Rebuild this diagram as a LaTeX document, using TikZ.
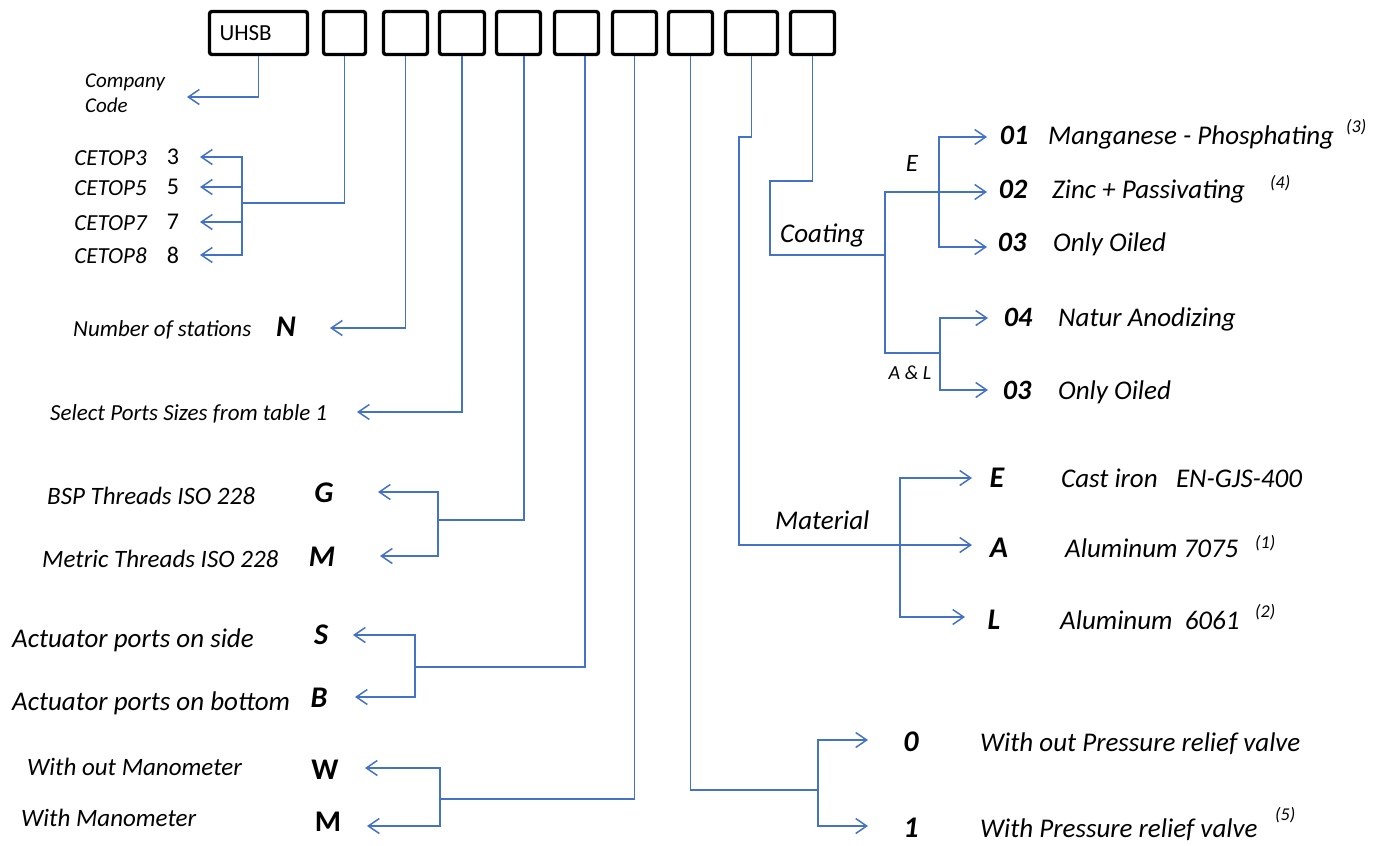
\documentclass[tikz,border=0pt]{standalone}
\usepackage{fontspec}
\setmainfont{Carlito}
\usetikzlibrary{arrows.meta}
\definecolor{linkblue}{RGB}{68,114,196}
\tikzset{
  link/.style={draw=linkblue,line width=1.5pt},
  arr/.style={link,-{Straight Barb[length=11pt,width=15pt]}},
  codebox/.style={draw,line width=3.4pt,rounded corners=2.5pt,minimum height=43pt,inner sep=0pt},
  smalltxt/.style={inner sep=0pt,yshift=-5pt,font=\fontsize{21}{25}\selectfont\itshape},
  txt/.style={inner sep=0pt,yshift=-6pt,font=\fontsize{23}{27}\selectfont\itshape},
  midtxt/.style={inner sep=0pt,yshift=-6pt,font=\fontsize{25}{29}\selectfont\itshape},
  bigtxt/.style={inner sep=0pt,yshift=-7pt,font=\fontsize{27}{31}\selectfont\itshape},
  lab/.style={inner sep=0pt,font=\fontsize{25}{29}\selectfont\itshape},
  num/.style={inner sep=0pt,font=\fontsize{24}{28}\selectfont},
  key/.style={inner sep=0pt,font=\fontsize{30}{34}\selectfont\bfseries\itshape},
  keyup/.style={inner sep=0pt,font=\fontsize{30}{34}\selectfont\bfseries},
  code/.style={inner sep=0pt,font=\fontsize{28}{32}\selectfont\bfseries\itshape},
  note/.style={inner sep=0pt,yshift=-3pt,font=\fontsize{18}{20}\selectfont\itshape}
}
\begin{document}
\begin{tikzpicture}[x=1pt,y=-1pt]
\useasboundingbox (0,0) rectangle (1387,846);
% code boxes
\node[codebox,minimum width=98pt,text width=78pt,inner xsep=10pt,align=left,
  font=\fontsize{23}{26}\selectfont] (b1) at (258.5,33) {UHSB};
\foreach \n/\x/\w in {2/344.5/42,3/405.5/44,4/462/45,5/518.5/44,6/576.5/44,
  7/634.5/44,8/690.5/44,9/751.5/52,10/812.5/44}
  \node[codebox,minimum width=\w pt] (b\n) at (\x,33) {};

% company code
\coordinate (tcode) at (187,97);
\draw[arr] (b1.south) |- (tcode);
\node[smalltxt,anchor=mid west] (company) at (85,80) {Company};
\node[smalltxt,anchor=mid west] (code) at (85,105) {Code};

% CETOP sizes
\coordinate (jsize) at (242,203);
\draw[link] (b2.south) |- (jsize);
\foreach \n/\y in {3/157,5/187,7/222,8/255}{
  \node[txt,anchor=mid east] (cetop\n) at (147,\y) {CETOP\n};
  \node[num] (size\n) at (173,\y) {\n};
  \coordinate (tsize\n) at (200,\y);
  \draw[arr] (jsize) |- (tsize\n);
}

% stations
\coordinate (tstat) at (330,328);
\draw[arr] (b3.south) |- (tstat);
\node[txt,anchor=mid west] (stations) at (73,328) {Number of stations};
\node[key] (keyN) at (286,327) {N};

% port sizes
\coordinate (tport) at (357,412);
\draw[arr] (b4.south) |- (tport);
\node[txt,anchor=mid west] (portsizes) at (50,412) {Select Ports Sizes from table 1};

% threads
\coordinate (jthr) at (438,520);
\coordinate (tthrG) at (378,492);
\coordinate (tthrM) at (380,556);
\draw[link] ([xshift=5.5pt]b5.south) |- (jthr);
\draw[arr] (jthr) |- (tthrG);
\draw[arr] (jthr) |- (tthrM);
\node[midtxt,anchor=mid west] (bsp) at (47,496) {BSP Threads ISO 228};
\node[midtxt,anchor=mid west] (metric) at (42,559) {Metric Threads ISO 228};
\node[key] (keyG) at (324,493) {G};
\node[key] (keyM) at (322,557) {M};

% actuator ports
\coordinate (jact) at (415,667);
\coordinate (tactS) at (353,635);
\coordinate (tactB) at (355,697);
\draw[link] ([xshift=8.5pt]b6.south) |- (jact);
\draw[arr] (jact) |- (tactS);
\draw[arr] (jact) |- (tactB);
\node[bigtxt,anchor=mid west] (side) at (12,638) {Actuator ports on side};
\node[bigtxt,anchor=mid west] (bottom) at (12,701) {Actuator ports on bottom};
\node[key] (keyS) at (321,635) {S};
\node[key] (keyB) at (319,698) {B};

% manometer
\coordinate (jman) at (440,799);
\coordinate (tmanW) at (365,768);
\coordinate (tmanM) at (367,826);
\draw[link] (b7.south) |- (jman);
\draw[arr] (jman) |- (tmanW);
\draw[arr] (jman) |- (tmanM);
\node[midtxt,anchor=mid west] (noman) at (27,767) {With out Manometer};
\node[midtxt,anchor=mid west] (man) at (21,818) {With Manometer};
\node[keyup] (keyW) at (325,770) {W};
\node[keyup] (keyMm) at (328,822) {M};

% relief valve
\coordinate (jval) at (818,790);
\coordinate (tval0) at (868,740);
\coordinate (tval1) at (868,826);
\draw[link] (b8.south) |- (jval);
\draw[arr] (jval) |- (tval0);
\draw[arr] (jval) |- (tval1);
\node[key] (key0) at (911,742) {0};
\node[key] (key1) at (911,828) {1};
\node[bigtxt,anchor=mid west] (noval) at (980,742) {With out Pressure relief valve};
\node[bigtxt,anchor=mid west] (val) at (980,828) {With Pressure relief valve};
\node[note,anchor=mid west] (note5) at (1275,815) {(5)};

% material
\coordinate (kmat) at (739,137);
\coordinate (jmat) at (900,545);
\coordinate (tmatE) at (972,478);
\coordinate (tmatA) at (972,545);
\coordinate (tmatL) at (965,617);
\draw[arr] (b9.south) |- (kmat) |- (tmatA);
\draw[arr] (jmat) |- (tmatE);
\draw[arr] (jmat) |- (tmatL);
\node[bigtxt,anchor=mid west] (material) at (775,520) {Material};
\node[key] (keyE) at (997,478) {E};
\node[key] (keyA) at (999,548) {A};
\node[key] (keyL) at (994,620) {L};
\node[bigtxt,anchor=mid west] (castiron) at (1061,478) {Cast iron~~~EN-GJS-400};
\node[bigtxt,anchor=mid west] (alu7075) at (1065,548) {Aluminum 7075};
\node[bigtxt,anchor=mid west] (alu6061) at (1060,620) {Aluminum~~6061};
\node[note,anchor=mid west] (note1) at (1255,543) {(1)};
\node[note,anchor=mid west] (note2) at (1255,612) {(2)};

% coating
\coordinate (kcoat) at (770,181);
\coordinate (jcoat) at (885,255);
\coordinate (jal) at (940,353);
\coordinate (je) at (939,192);
\coordinate (tc01) at (987,137);
\coordinate (tc02) at (987,192);
\coordinate (tc03) at (987,247);
\coordinate (tc04) at (988,318);
\coordinate (tc05) at (988,390);
\draw[link] (b10.south) |- (kcoat) |- (jcoat);
\draw[arr] (jcoat) |- (tc02);
\draw[link] (jcoat) |- (jal);
\draw[arr] (je) |- (tc01);
\draw[arr] (je) |- (tc03);
\draw[arr] (jal) |- (tc04);
\draw[arr] (jal) |- (tc05);
\node[bigtxt,anchor=mid west] (coating) at (780,233) {Coating};
\node[lab] (labE) at (912,163) {E};
\node[lab,font=\fontsize{20}{24}\selectfont\itshape] (labAL) at (910,373) {A \& L};
\foreach \c/\x/\y/\d/\dx in {01/1014/135/Manganese - Phosphating/1048,
  02/1013/189/Zinc + Passivating/1052,03/1012/242/Only Oiled/1053,
  04/1018/317/Natur Anodizing/1058,03/1017/390/Only Oiled/1058}{
  \node[code] (c\c\y) at (\x,\y) {\c};
  \node[bigtxt,anchor=mid west] (d\c\y) at (\dx,\y) {\d};
}
\node[note,anchor=mid west] (note3) at (1346,127) {(3)};
\node[note,anchor=mid west] (note4) at (1270,183) {(4)};
\end{tikzpicture}
\end{document}
